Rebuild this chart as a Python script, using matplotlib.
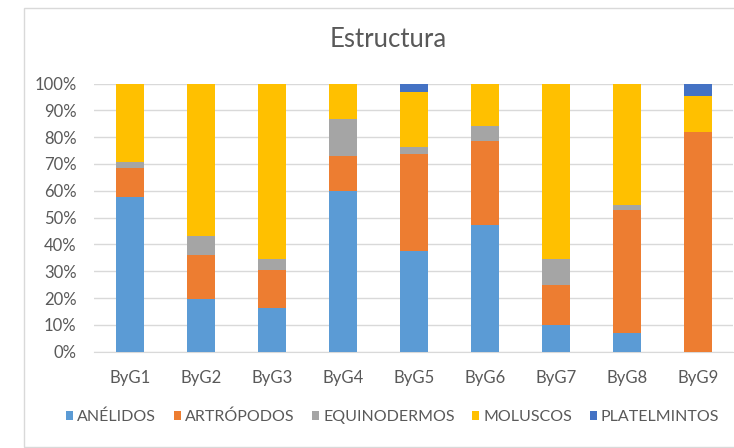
import numpy as np
import matplotlib
matplotlib.use("Agg")
import matplotlib.pyplot as plt
from matplotlib.patches import Rectangle

plt.rcParams['font.family'] = ['Lato', 'DejaVu Sans']

# -------------------------------
# Datos (% por grupo)
# -------------------------------
grupos = ["ByG1", "ByG2", "ByG3", "ByG4", "ByG5", "ByG6", "ByG7", "ByG8", "ByG9"]

anelidos     = [57.7, 19.6, 16.2, 60.0, 37.7, 47.1, 10.0,  7.1,  0.0]
artropodos   = [10.8, 16.5, 14.1, 12.9, 36.1, 31.6, 14.9, 45.6, 81.9]
equinodermos = [ 2.2,  7.1,  4.3, 13.7,  2.5,  5.4,  9.6,  2.0,  0.0]
moluscos     = [29.3, 56.8, 65.4, 13.4, 20.6, 15.9, 65.5, 45.3, 13.4]
platelmintos = [ 0.0,  0.0,  0.0,  0.0,  3.1,  0.0,  0.0,  0.0,  4.7]

series = ["ANÉLIDOS", "ARTRÓPODOS", "EQUINODERMOS", "MOLUSCOS", "PLATELMINTOS"]
colores = ["#5B9BD5", "#ED7D31", "#A5A5A5", "#FFC000", "#4472C4"]

GRIS_TEXTO = "#595959"
GRIS_LINEA = "#D9D9D9"

# -------------------------------
# Figura
# -------------------------------
fig = plt.figure(figsize=(7.34, 4.48), dpi=100)
ax = fig.add_axes([0.1287, 0.215, 0.8706, 0.5986])

valores = np.array([anelidos, artropodos, equinodermos, moluscos, platelmintos])
x = np.arange(len(grupos))
base = np.zeros(len(grupos))

for nombre, fila, color in zip(series, valores, colores):
    ax.bar(x, fila, bottom=base, width=0.39, color=color,
           label=nombre, zorder=3)
    base = base + fila

ax.set_xlim(-0.5, len(grupos) - 0.5)
ax.set_ylim(0, 100)
ax.set_yticks(np.arange(0, 101, 10))
ax.set_yticklabels([f"{v}%" for v in range(0, 101, 10)])
ax.set_xticks(x)
ax.set_xticklabels(grupos)

ax.grid(axis="y", color=GRIS_LINEA, linewidth=1, zorder=0)
for lado in ["top", "right", "left"]:
    ax.spines[lado].set_visible(False)
ax.spines["bottom"].set_color(GRIS_LINEA)
ax.tick_params(axis="both", length=0, colors=GRIS_TEXTO, labelsize=12)
ax.tick_params(axis="y", pad=13)
ax.tick_params(axis="x", pad=13)

fig.text(0.529, 0.912, "Estructura", ha="center", va="center",
         fontsize=18.5, color=GRIS_TEXTO)

fig.legend(loc="center", bbox_to_anchor=(0.535, 0.069), ncol=5,
           frameon=False, fontsize=11.5, labelcolor=GRIS_TEXTO,
           handlelength=0.45, handleheight=0.45, handletextpad=0.25,
           columnspacing=1.1, borderaxespad=0, borderpad=0)

# borde del área del gráfico
fig.patches.append(Rectangle((24 / 734, 1 / 448), 1.0, 439 / 448,
                             transform=fig.transFigure, fill=False,
                             edgecolor=GRIS_LINEA, linewidth=1))

fig.savefig("out.png", dpi=100, facecolor="white")
